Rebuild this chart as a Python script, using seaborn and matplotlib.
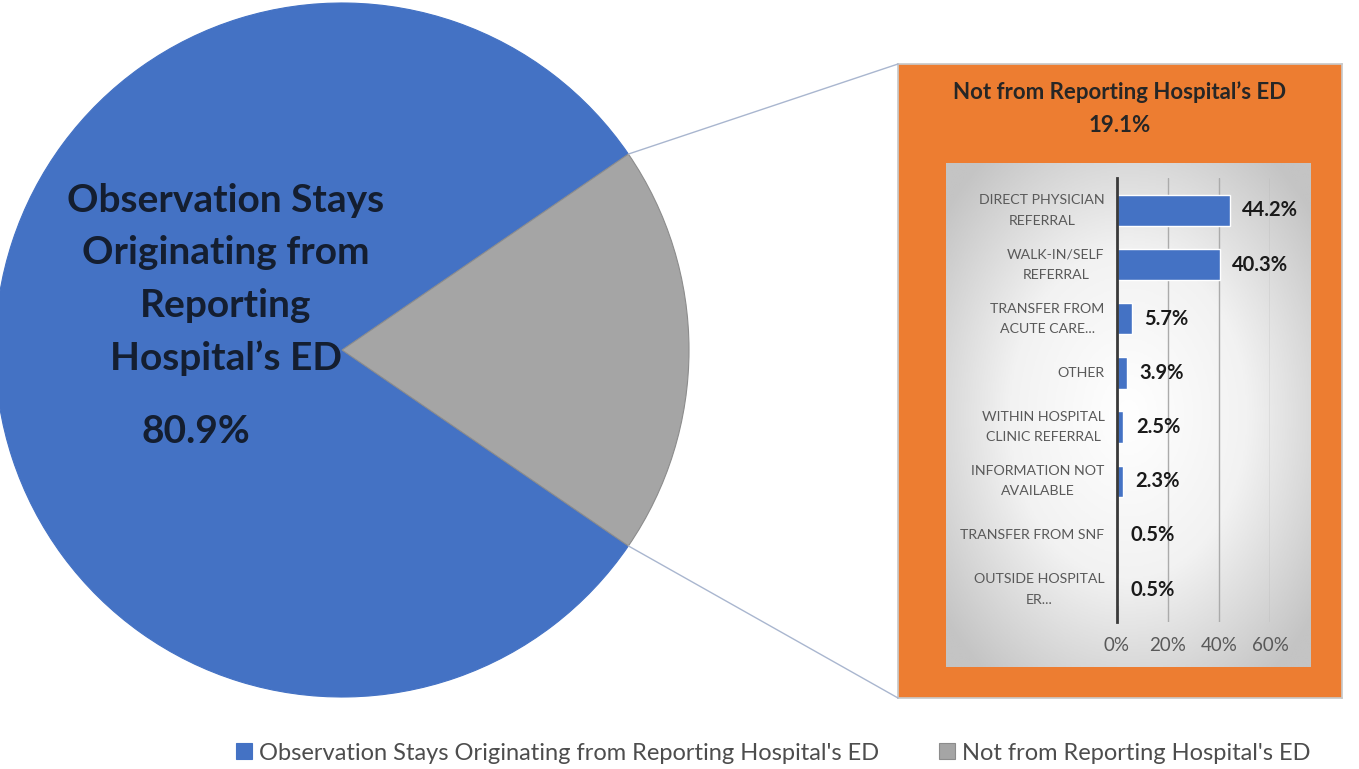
import numpy as np
import pandas as pd
import matplotlib
matplotlib.use("Agg")
import matplotlib.pyplot as plt
import seaborn as sns
from matplotlib.patches import ConnectionPatch

# dados
pie_labels = ["Observation Stays Originating from Reporting Hospital's ED",
              "Not from Reporting Hospital's ED"]
pie_vals = [80.9, 19.1]

categorias = ["DIRECT PHYSICIAN\nREFERRAL", "WALK-IN/SELF\nREFERRAL",
              "TRANSFER FROM\nACUTE CARE...", "OTHER",
              "WITHIN HOSPITAL\nCLINIC REFERRAL", "INFORMATION NOT\nAVAILABLE",
              "TRANSFER FROM SNF", "OUTSIDE HOSPITAL\nER..."]
percentuais = [44.2, 40.3, 5.7, 3.9, 2.5, 2.3, 0.5, 0.5]
ticks_x = [0, 20, 40, 60]

AZUL = "#4472C4"
CINZA = "#A5A5A5"
LARANJA = "#ED7D31"

sns.set_theme(style="white")
plt.rcParams['font.family'] = ['Lato', 'DejaVu Sans']

W, H = 1359, 769
fig = plt.figure(figsize=(W / 100, H / 100), dpi=100)
fig.patch.set_facecolor("white")

def rect(x0, y0, x1, y1):
    # pixels (origem no topo) -> fração da figura
    return [x0 / W, 1 - y1 / H, (x1 - x0) / W, (y1 - y0) / H]

# --- pizza ---
cx, cy, r = 342, 350, 347
ax_pie = fig.add_axes(rect(cx - r, cy - r, cx + r, cy + r))
meio = pie_vals[1] * 3.6 / 2
wedges, _ = ax_pie.pie(pie_vals, colors=[AZUL, CINZA], startangle=meio,
                       counterclock=True, radius=1,
                       wedgeprops=dict(linewidth=0.8, edgecolor="#8C8C8C"))
wedges[0].set_edgecolor(AZUL)
ax_pie.set_xlim(-1, 1)
ax_pie.set_ylim(-1, 1)
ax_pie.set_aspect("equal")
ax_pie.axis("off")

ax_pie.text(-0.335, 0.203, "Observation Stays\nOriginating from\nReporting\nHospital\u2019s ED",
            ha="center", va="center", fontsize=28, fontweight="bold",
            color="#141E30", linespacing=1.6)
ax_pie.text(-0.42, -0.236, f"{pie_vals[0]}%", ha="center", va="center",
            fontsize=28, fontweight="bold", color="#141E30")

# --- caixa laranja ---
bx0, by0, bx1, by1 = 898, 64, 1342, 698
ax_box = fig.add_axes(rect(bx0, by0, bx1, by1))
ax_box.set_facecolor(LARANJA)
ax_box.set_xticks([])
ax_box.set_yticks([])
for s in ax_box.spines.values():
    s.set_color("#C9C9C9")
ax_box.text(0.5, 1 - (92 - by0) / (by1 - by0), "Not from Reporting Hospital\u2019s ED",
            transform=ax_box.transAxes, ha="center", va="center",
            fontsize=16, fontweight="bold", color="#262626")
ax_box.text(0.5, 1 - (125 - by0) / (by1 - by0), f"{pie_vals[1]}%",
            transform=ax_box.transAxes, ha="center", va="center",
            fontsize=16, fontweight="bold", color="#262626")

# painel com gradiente
ax_bg = fig.add_axes(rect(946, 163, 1310, 667))
yy, xx = np.mgrid[-1:1:200j, -1:1:200j]
grad = np.clip(np.sqrt(xx ** 2 + yy ** 2) / 1.3, 0, 1)
ax_bg.imshow(grad, cmap=matplotlib.colors.LinearSegmentedColormap.from_list(
    "g", ["#FFFFFF", "#F2F2F2", "#C4C4C4"]), aspect="auto", extent=[0, 1, 0, 1])
ax_bg.axis("off")

# --- barras ---
ax = fig.add_axes(rect(1117, 178, 1270, 622))
ax.patch.set_alpha(0)
df = pd.DataFrame({"cat": categorias, "pct": percentuais})
sns.barplot(data=df, x="pct", y="cat", orient="h", color=AZUL, width=0.58,
            saturation=1, ax=ax)
ax.set_xlim(0, 60)
ax.set_ylim(len(categorias) - 0.4, -0.6)
ax.set_xticks(ticks_x)
ax.set_xticklabels([f"{t}%" for t in ticks_x], fontsize=13.5, color="#595959")
ax.tick_params(axis="x", length=0, pad=11)
ax.tick_params(axis="y", length=0)
ax.set_yticklabels([])
# rótulos das categorias escritos à mão para controlar o espaçamento entre linhas
for i, c in enumerate(categorias):
    ax.annotate(c, xy=(0, i), xycoords=("axes fraction", "data"),
                xytext=(-9, 0), textcoords="offset points",
                ha="right", va="center", multialignment="center",
                fontsize=10.2, color="#595959", linespacing=1.85)
ax.set_xlabel("")
ax.set_ylabel("")
ax.xaxis.grid(True, color="#ABABAB", linewidth=1)
ax.set_axisbelow(True)
for s in ["top", "right", "bottom"]:
    ax.spines[s].set_visible(False)
ax.spines["left"].set_color("#3A3A3A")
ax.spines["left"].set_linewidth(2)
ax.bar_label(ax.containers[0], labels=[f"{v}%" for v in percentuais],
             padding=9, fontsize=14.5, fontweight="bold", color="#1A1A1A")

# --- linhas de ligação ---
for ang, py in [(meio, by0), (-meio, by1)]:
    a = np.deg2rad(ang)
    con = ConnectionPatch(xyA=(np.cos(a), np.sin(a)), coordsA=ax_pie.transData,
                          xyB=(bx0 / W, 1 - py / H), coordsB=fig.transFigure,
                          color="#A9B6CF", linewidth=1)
    fig.add_artist(con)

# --- legenda ---
fig.legend(wedges, pie_labels, loc="center", bbox_to_anchor=(0.569, 1 - 753 / H),
           ncol=2, frameon=False, fontsize=17, labelcolor="#4D4D4D",
           handlelength=0.65, handleheight=0.65, handletextpad=0.3,
           columnspacing=2.55)

fig.savefig("out.png", dpi=100, facecolor="white")
